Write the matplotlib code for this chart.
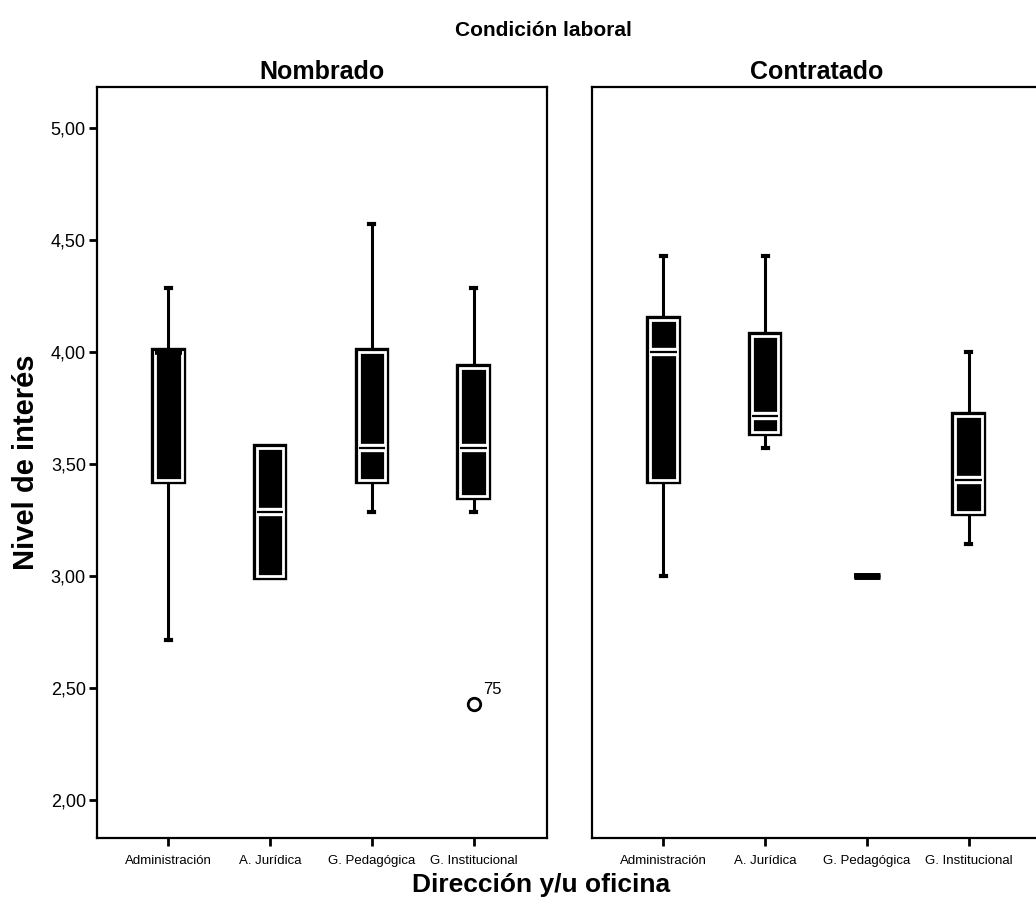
import matplotlib
matplotlib.use("Agg")
import matplotlib.pyplot as plt
import matplotlib.patheffects as pe

plt.rcParams['font.family'] = ['Liberation Sans', 'DejaVu Sans']

categories = ["Administración", "A. Jurídica", "G. Pedagógica", "G. Institucional"]
panels = ["Nombrado", "Contratado"]

# Nombrado
nom_whislo = [2.714, 3.000, 3.286, 3.286]
nom_q1     = [3.429, 3.000, 3.429, 3.357]
nom_med    = [4.000, 3.286, 3.571, 3.571]
nom_q3     = [4.000, 3.571, 4.000, 3.929]
nom_whishi = [4.286, 3.571, 4.571, 4.286]
nom_fliers = [[], [], [], [2.429]]
nom_flier_labels = [[], [], [], ["75"]]

# Contratado
con_whislo = [3.000, 3.571, 3.000, 3.143]
con_q1     = [3.429, 3.643, 3.000, 3.286]
con_med    = [4.000, 3.714, 3.000, 3.429]
con_q3     = [4.143, 4.071, 3.000, 3.714]
con_whishi = [4.429, 4.429, 3.000, 4.000]
con_fliers = [[], [], [], []]
con_flier_labels = [[], [], [], []]

yticks = [2.0, 2.5, 3.0, 3.5, 4.0, 4.5, 5.0]
ytick_labels = ["2,00", "2,50", "3,00", "3,50", "4,00", "4,50", "5,00"]

W, H = 1036, 915
fig = plt.figure(figsize=(W / 100, H / 100), dpi=100)

ax_w = 450 / W
ax_b = 1 - 838 / H
ax_h = (838 - 87) / H
axL = fig.add_axes([97 / W, ax_b, ax_w, ax_h])
axR = fig.add_axes([592 / W, ax_b, ax_w, ax_h])

data = [
    (nom_whislo, nom_q1, nom_med, nom_q3, nom_whishi, nom_fliers, nom_flier_labels),
    (con_whislo, con_q1, con_med, con_q3, con_whishi, con_fliers, con_flier_labels),
]

positions = [1, 2, 3, 4]
for ax, (wl, q1, md, q3, wh, fl, fll), title in zip([axL, axR], data, panels):
    stats = []
    for i in range(4):
        stats.append(dict(whislo=wl[i], q1=q1[i], med=md[i], q3=q3[i],
                          whishi=wh[i], fliers=fl[i], label=categories[i]))
    bp = ax.bxp(stats, positions=positions, widths=0.26, patch_artist=True,
                showfliers=True, capwidths=0.05,
                boxprops=dict(facecolor='black', edgecolor='white', linewidth=2.0),
                medianprops=dict(color='black', linewidth=1.6, solid_capstyle='butt'),
                whiskerprops=dict(color='black', linewidth=2.2),
                capprops=dict(color='black', linewidth=3),
                flierprops=dict(marker='o', markerfacecolor='white',
                                markeredgecolor='black', markersize=9,
                                markeredgewidth=2))
    for i, b in enumerate(bp['boxes']):
        if q1[i] == q3[i]:
            b.set_edgecolor('black')
            b.set_path_effects([pe.Stroke(linewidth=5, foreground='black'), pe.Normal()])
        else:
            b.set_path_effects([pe.Stroke(linewidth=6.0, foreground='black'), pe.Normal()])
        b.set_zorder(3)
    for i, m in enumerate(bp['medians']):
        if md[i] == q1[i] or md[i] == q3[i]:
            m.set_path_effects([pe.Stroke(linewidth=4, foreground='black', capstyle='butt'),
                                pe.Normal()])
        else:
            m.set_path_effects([pe.Stroke(linewidth=6, foreground='white', capstyle='butt'),
                                pe.Normal()])
        m.set_zorder(4)
    for i in range(4):
        for v, lab in zip(fl[i], fll[i]):
            ax.annotate(lab, (positions[i], v), xytext=(7, 7),
                        textcoords='offset points', fontsize=12)
    ax.set_xlim(0.30, 4.72)
    ax.set_ylim(1.83, 5.183)
    ax.set_xticks(positions)
    ax.set_xticklabels(categories, fontsize=9.5)
    ax.tick_params(axis='x', direction='out', length=6, width=2, pad=6)
    for s in ax.spines.values():
        s.set_linewidth(1.6)
        s.set_color('black')
    ax.set_title(title, fontsize=18, fontweight='bold', pad=6)

axL.set_yticks(yticks)
axL.set_yticklabels(ytick_labels, fontsize=13)
axL.tick_params(axis='y', direction='out', length=6, width=2, pad=2)
axR.set_yticks([])
axL.set_ylabel("Nivel de interés", fontsize=21, fontweight='bold', labelpad=8)

fig.text(543 / W, 1 - 31 / H, "Condición laboral", ha='center', va='center',
         fontsize=15, fontweight='bold')
fig.text(541 / W, 1 - 885 / H, "Dirección y/u oficina", ha='center', va='center',
         fontsize=19, fontweight='bold')

fig.savefig("out.png", dpi=100)
